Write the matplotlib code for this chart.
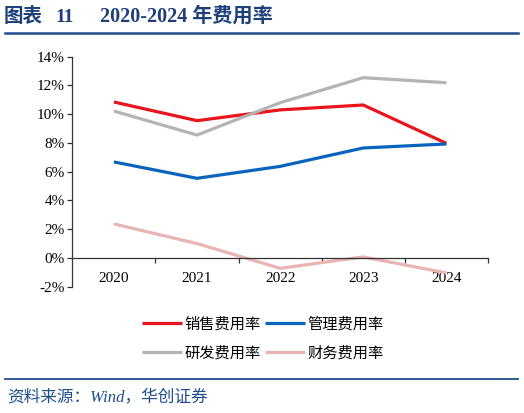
import matplotlib
matplotlib.use("Agg")
import matplotlib.pyplot as plt
from matplotlib.lines import Line2D

plt.rcParams['font.family'] = ['Liberation Serif', 'Noto Sans CJK SC', 'DejaVu Sans']

years = ["2020", "2021", "2022", "2023", "2024"]
sales = [10.85, 9.55, 10.30, 10.64, 7.97]
admin = [6.68, 5.54, 6.37, 7.65, 7.93]
rnd = [10.22, 8.55, 10.80, 12.54, 12.19]
fin = [2.37, 1.00, -0.72, 0.07, -1.04]
series_names = ["销售费用率", "管理费用率", "研发费用率", "财务费用率"]
colors = ["#E8141E", "#0A64BE", "#B4B4B4", "#E8B4B4"]
yticks = [-2, 0, 2, 4, 6, 8, 10, 12, 14]

W, H = 524, 413
fig = plt.figure(figsize=(W / 100, H / 100), dpi=100)

ax = fig.add_axes([72.3 / W, 1 - 286.7 / H, (488 - 72.3) / W, 230 / H])
xs = [i + 0.5 for i in range(len(years))]
handles = []
for vals, c, name in zip([sales, admin, rnd, fin], colors, series_names):
    ln, = ax.plot(xs, vals, color=c, lw=2.3, solid_capstyle='butt', label=name)
    handles.append(ln)

ax.set_xlim(0, len(years))
ax.set_ylim(-2, 14)
ax.set_yticks(yticks)
ax.set_yticklabels([f"{v}%" for v in yticks], fontsize=11, family='Liberation Serif')
ax.spines['top'].set_visible(False)
ax.spines['right'].set_visible(False)
ax.spines['bottom'].set_position(('data', 0))
for s in ['left', 'bottom']:
    ax.spines[s].set_color('#333333')
    ax.spines[s].set_linewidth(0.9)
ax.tick_params(axis='y', direction='out', length=3.5, width=0.9, color='#333333', pad=2)
ax.set_xticks(range(1, len(years) + 1))
ax.set_xticklabels([])
ax.tick_params(axis='x', which='major', direction='out', length=3.5, width=0.9, color='#333333')
ax.set_xticks(xs, minor=True)
ax.set_xticklabels(years, minor=True, fontsize=11, family='Liberation Serif')
ax.tick_params(axis='x', which='minor', length=0, pad=10)

# Legend (row-major: fill order for ncol=2 is column-major)
order = [0, 2, 1, 3]
fig.legend([handles[i] for i in order], [series_names[i] for i in order],
           ncol=2, loc='center', bbox_to_anchor=(263 / W, 1 - 338.5 / H),
           frameon=False, prop={'family': 'Noto Sans CJK SC', 'size': 11},
           handlelength=2.6, handletextpad=0.2, columnspacing=0.25,
           labelspacing=0.8)

# Title and decorations
title_color = "#1F3F7A"
tfam = ['Liberation Serif', 'Noto Sans CJK SC']
ty = 1 - 17 / H
fig.text(4 / W, ty, "图表", fontsize=14, fontweight='bold', color=title_color,
         va='center', ha='left', family=tfam)
fig.text(55 / W, ty, "11", fontsize=14, fontweight='bold', color=title_color,
         va='center', ha='left', family=tfam)
fig.text(100 / W, ty, "2020-2024 年费用率", fontsize=14.5, fontweight='bold',
         color=title_color, va='center', ha='left', family=tfam)
fig.add_artist(Line2D([5 / W, 518 / W], [1 - 33 / H, 1 - 33 / H],
                      color="#1F4E8C", lw=1.8))
fig.add_artist(Line2D([5 / W, 518 / W], [1 - 378.5 / H, 1 - 378.5 / H],
                      color="#1F4E8C", lw=1.3))
fig.text(7 / W, 1 - 397 / H, "资料来源：Wind，华创证券", fontsize=12,
         color="#1F4E8C", va='center', ha='left', style='italic',
         family=['Liberation Serif', 'Noto Sans CJK SC'])

fig.savefig("out.png", dpi=100)
